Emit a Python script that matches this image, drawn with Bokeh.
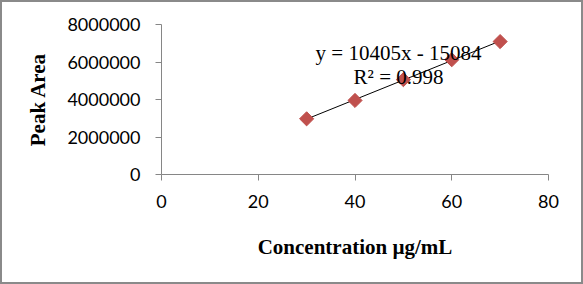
import numpy as np
from bokeh.plotting import figure
from bokeh.models import FixedTicker, NumeralTickFormatter, Label, ColumnDataSource, Range1d
from bokeh.embed import file_html
from bokeh.resources import INLINE

# Data
concentration = [30, 40, 50, 60, 70]
peak_area = [2970000, 3950000, 5060000, 6120000, 7090000]
x_ticks = [0, 20, 40, 60, 80]
y_ticks = [0, 2000000, 4000000, 6000000, 8000000]
equation_text = "y = 10405x - 15084"
r2_text = "R\u00b2 = 0.998"
x_title = "Concentration \u00b5g/mL"
y_title = "Peak Area"

W, H = 583, 284
p = figure(width=W, height=H, output_backend="svg", toolbar_location=None,
           x_range=Range1d(0, 80), y_range=Range1d(0, 8000000),
           min_border_left=159, min_border_right=37, min_border_top=22, min_border_bottom=112,
           styles={"border": "2px solid #8a8a8a", "box-sizing": "border-box"})
p.outline_line_color = None
p.xgrid.visible = False
p.ygrid.visible = False
p.background_fill_color = "white"
p.border_fill_color = "white"

axis_col = "#868686"
for ax in (p.xaxis[0], p.yaxis[0]):
    ax.axis_line_color = axis_col
    ax.major_tick_line_color = axis_col
    ax.major_tick_out = 6
    ax.major_tick_in = 0
    ax.minor_tick_line_color = None
    ax.major_label_text_font = "Lato"
    ax.major_label_text_font_size = "18px"
    ax.major_label_text_color = "#000000"
    ax.axis_label_text_font = "Liberation Serif"
    ax.axis_label_text_font_style = "bold"
    ax.axis_label_text_font_size = "21px"
    ax.axis_label_text_color = "#000000"

p.xaxis[0].ticker = FixedTicker(ticks=x_ticks)
p.yaxis[0].ticker = FixedTicker(ticks=y_ticks)
p.yaxis[0].formatter = NumeralTickFormatter(format="0")
p.xaxis[0].major_label_standoff = 14
p.yaxis[0].major_label_standoff = 15
p.xaxis[0].axis_label = x_title
p.yaxis[0].axis_label = y_title
p.xaxis[0].axis_label_standoff = 24
p.yaxis[0].axis_label_standoff = 14

# Linear trendline from the data
coef = np.polyfit(concentration, peak_area, 1)
tx = [min(concentration), max(concentration)]
ty = [coef[0] * v + coef[1] for v in tx]
p.line(tx, ty, line_color="black", line_width=1)

src = ColumnDataSource(dict(x=concentration, y=peak_area))
p.scatter("x", "y", source=src, marker="square", angle=np.pi / 4, size=10,
          fill_color="#C0504D", line_color="#C0504D")

p.add_layout(Label(x=49, y=6500000, text=equation_text, text_align="center",
                   text_baseline="middle", text_font="Liberation Serif",
                   text_font_size="21px", text_color="black"))
p.add_layout(Label(x=49, y=5200000, text=r2_text, text_align="center",
                   text_baseline="middle", text_font="Liberation Serif",
                   text_font_size="21px", text_color="black"))

open("out.html", "w").write(file_html(p, INLINE))
